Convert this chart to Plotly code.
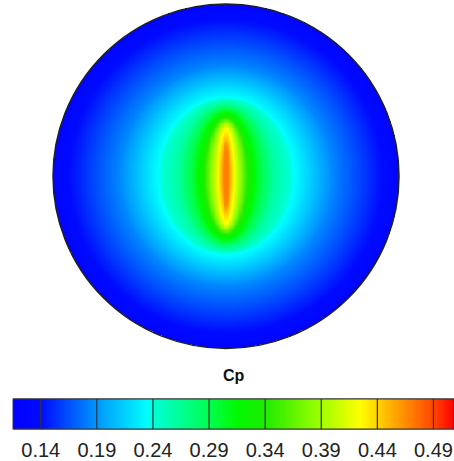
import numpy as np
import plotly.graph_objects as go

# ---- data ----
# contour ellipses of Cp (semi-axes in px; disk radius ~173 px)
cp_levels = [0.47, 0.465, 0.445, 0.42, 0.33, 0.30, 0.26, 0.235, 0.185, 0.155, 0.125]
semi_a_px = [1, 3, 5, 8.5, 23.5, 32, 48, 68, 106, 140, 173]
semi_b_px = [18, 30, 37, 49, 60, 66, 73, 79, 110, 142, 173]

# colour scale stops (Cp value, colour)
cs_values = [0.115, 0.14, 0.19, 0.235, 0.24, 0.29, 0.315, 0.34, 0.39, 0.425, 0.44, 0.49, 0.508]
cs_colors = ['rgb(0,0,255)', 'rgb(0,10,255)', 'rgb(0,150,255)', 'rgb(0,255,255)',
             'rgb(0,255,215)', 'rgb(0,255,80)', 'rgb(0,250,0)', 'rgb(30,235,0)',
             'rgb(160,255,0)', 'rgb(255,255,0)', 'rgb(255,210,0)', 'rgb(255,70,0)',
             'rgb(255,0,0)']

tick_values = [0.14, 0.19, 0.24, 0.29, 0.34, 0.39, 0.44, 0.49]
tick_labels = ['0.14', '0.19', '0.24', '0.29', '0.34', '0.39', '0.44', '0.49']
cb_min, cb_max = 0.115, 0.5083
cb_title = 'Cp'

# ---- build field from contour ellipses ----
W, H = 454, 461
R_px = 173.0
n = 420
g = np.linspace(-1, 1, n)
U, V = np.meshgrid(g, g)

idx = np.arange(len(cp_levels), dtype=float)
a_arr = np.array(semi_a_px) / R_px
b_arr = np.array(semi_b_px) / R_px


def s_of(lam):
    a = np.interp(lam, idx, a_arr)
    b = np.interp(lam, idx, b_arr)
    return np.sqrt((U / a) ** 2 + (V / b) ** 2)


lo = np.zeros_like(U)
hi = np.full_like(U, idx[-1])
for _ in range(40):
    mid = 0.5 * (lo + hi)
    outside = s_of(mid) > 1
    lo = np.where(outside, mid, lo)
    hi = np.where(outside, hi, mid)
lam = 0.5 * (lo + hi)
Z = np.interp(lam, idx, np.array(cp_levels))
Z = np.where(U ** 2 + V ** 2 <= 1.0, Z, np.nan)

cscale = [[(v - cb_min) / (cb_max - cb_min), c] for v, c in zip(cs_values, cs_colors)]
cscale[-1][0] = 1.0

fig = go.Figure()
fig.add_trace(go.Heatmap(x=g, y=-g, z=Z, colorscale=cscale, zmin=cb_min, zmax=cb_max,
                         showscale=False, hoverinfo='skip', xaxis='x', yaxis='y'))

cb_x = np.linspace(cb_min, cb_max, 500)
fig.add_trace(go.Heatmap(x=cb_x, y=[0], z=[cb_x], colorscale=cscale, zmin=cb_min, zmax=cb_max,
                         showscale=False, hoverinfo='skip', xaxis='x2', yaxis='y2'))

# disk axes: centre at (226, 177) px
cx, cy = 226.0, 177.0
top_px, bot_px = 0.0, 362.0
fig.update_layout(
    width=W, height=H, margin=dict(l=0, r=0, t=0, b=0),
    paper_bgcolor='white', plot_bgcolor='white', showlegend=False,
    xaxis=dict(domain=[0, 1], range=[-cx / R_px, (W - cx) / R_px], visible=False),
    yaxis=dict(domain=[1 - bot_px / H, 1 - top_px / H],
               range=[-(bot_px - cy) / R_px, (cy - top_px) / R_px], visible=False),
    xaxis2=dict(domain=[12.7 / W, 1], range=[cb_min, cb_max], anchor='y2',
                tickvals=tick_values, ticktext=tick_labels, ticks='outside', ticklen=3,
                tickcolor='rgba(0,0,0,0)', showline=False,
                showgrid=False, zeroline=False,
                tickfont=dict(family='Liberation Sans, Arial', size=20, color='#222')),
    yaxis2=dict(domain=[1 - 431 / H, 1 - 400.7 / H], range=[-0.5, 0.5], visible=False,
                anchor='x2'),
)

# disk outline
fig.add_shape(type='circle', xref='x', yref='y', x0=-1, x1=1, y0=-1, y1=1,
              line=dict(color='#222', width=1.5))
# colorbar separators and border
for t in tick_values:
    fig.add_shape(type='line', xref='x2', yref='y2 domain', x0=t, x1=t, y0=0, y1=1,
                  line=dict(color='#333', width=1.2))
fig.add_shape(type='rect', xref='x2', yref='y2 domain', x0=cb_min, x1=cb_max, y0=0, y1=1,
              line=dict(color='#333', width=1.2))
fig.add_annotation(text='<b>' + cb_title + '</b>', xref='paper', yref='paper',
                   x=234 / W, y=1 - 388 / H, showarrow=False,
                   font=dict(family='Liberation Sans, Arial', size=16, color='#111'))

fig.write_html('out.html')
